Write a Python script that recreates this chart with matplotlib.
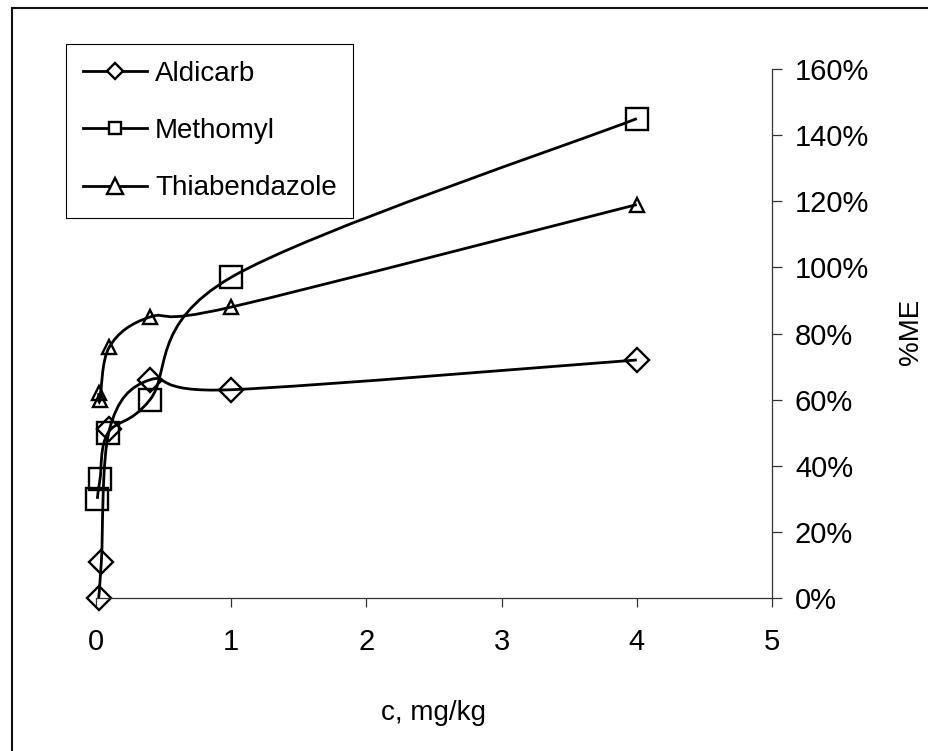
import matplotlib
matplotlib.use("Agg")
import matplotlib.pyplot as plt
from matplotlib.path import Path
from matplotlib.patches import PathPatch, Rectangle
from matplotlib.lines import Line2D
from matplotlib.ticker import PercentFormatter

plt.rcParams["font.family"] = "Liberation Sans"

# concentration (mg/kg) vs matrix effect (fraction, shown as %)
series_names = ["Aldicarb", "Methomyl", "Thiabendazole"]
aldicarb_c = [0.02, 0.04, 0.1, 0.4, 1, 4]
aldicarb_me = [0.00, 0.11, 0.51, 0.66, 0.63, 0.72]
methomyl_c = [0.01, 0.03, 0.09, 0.4, 1, 4]
methomyl_me = [0.30, 0.36, 0.50, 0.60, 0.97, 1.45]
thiabendazole_c = [0.02, 0.03, 0.1, 0.4, 1, 4]
thiabendazole_me = [0.62, 0.60, 0.76, 0.85, 0.88, 1.19]

x_ticks = [0, 1, 2, 3, 4, 5]
y_ticks = [0, 0.2, 0.4, 0.6, 0.8, 1.0, 1.2, 1.4, 1.6]


def smooth_path(xs, ys):
    # smoothed line through the points: catmull-rom segments drawn as cubic beziers
    pts = list(zip(xs, ys))
    n = len(pts)
    verts = [pts[0]]
    codes = [Path.MOVETO]
    for i in range(n - 1):
        p0 = pts[max(i - 1, 0)]
        p1 = pts[i]
        p2 = pts[i + 1]
        p3 = pts[min(i + 2, n - 1)]
        c1 = (p1[0] + (p2[0] - p0[0]) / 6, p1[1] + (p2[1] - p0[1]) / 6)
        c2 = (p2[0] - (p3[0] - p1[0]) / 6, p2[1] - (p3[1] - p1[1]) / 6)
        verts += [c1, c2, p2]
        codes += [Path.CURVE4] * 3
    return Path(verts, codes)


fig = plt.figure(figsize=(9.29, 7.51), dpi=100)
ax = fig.add_axes([0.1033, 0.2037, 0.7277, 0.7044])

# outer chart border (runs off the right and bottom of the image)
fig.patches.append(Rectangle((0.0126, -0.1), 1.2, 1.089, transform=fig.transFigure,
                             fill=False, edgecolor="#111111", linewidth=1.5))

data = [
    (aldicarb_c, aldicarb_me, "D", 12.7),
    (methomyl_c, methomyl_me, "s", 16),
    (thiabendazole_c, thiabendazole_me, "^", 10.5),
]
for xs, ys, mk, ms in data:
    ax.add_patch(PathPatch(smooth_path(xs, ys), fill=False, edgecolor="black",
                           linewidth=2, clip_on=False))
    ax.plot(xs, ys, linestyle="none", marker=mk, markersize=ms,
            markerfacecolor="none", markeredgecolor="black",
            markeredgewidth=1.7, clip_on=False)

ax.set_xlim(0, 5)
ax.set_ylim(0, 1.6)
ax.set_xticks(x_ticks)
ax.set_yticks(y_ticks)
ax.yaxis.set_major_formatter(PercentFormatter(1.0, decimals=0))

for side in ["left", "top"]:
    ax.spines[side].set_visible(False)
for side in ["bottom", "right"]:
    ax.spines[side].set_color("#333333")
    ax.spines[side].set_linewidth(0.9)

ax.yaxis.tick_right()
ax.tick_params(axis="x", direction="out", length=6.5, width=0.9, color="#333333",
               labelsize=21, pad=15)
ax.tick_params(axis="y", direction="out", length=7.5, width=0.9, color="#333333",
               labelsize=21, pad=9)

ax.set_xlabel("c, mg/kg", fontsize=20, labelpad=32)
fig.text(911 / 929, 1 - 332 / 751, "%ME", rotation=90, ha="center", va="center",
         fontsize=20)

handles = [
    Line2D([], [], color="black", linewidth=2, marker="D", markersize=8.2,
           markerfacecolor="white", markeredgewidth=1.7),
    Line2D([], [], color="black", linewidth=2, marker="s", markersize=8,
           markerfacecolor="white", markeredgewidth=1.7),
    Line2D([], [], color="black", linewidth=2, marker="^", markersize=11,
           markerfacecolor="white", markeredgewidth=1.7),
]
leg = ax.legend(handles, series_names, loc="upper left",
                bbox_to_anchor=(66 / 929, 1 - 44 / 751), bbox_transform=fig.transFigure,
                borderaxespad=0, fontsize=20, handlelength=2.3, handletextpad=0.3,
                labelspacing=1.13, borderpad=0.6, fancybox=False, framealpha=1)
leg.get_frame().set_edgecolor("black")
leg.get_frame().set_linewidth(0.8)

fig.savefig("out.png", dpi=100)
